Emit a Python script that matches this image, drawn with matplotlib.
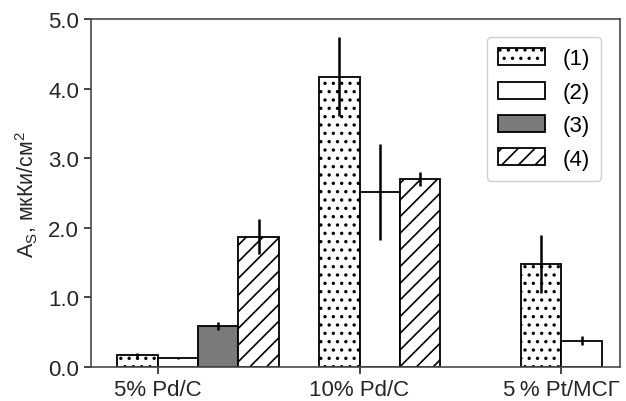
import numpy as np
import matplotlib
matplotlib.use("Agg")
import matplotlib.pyplot as plt

plt.rcParams['font.family'] = ['Liberation Sans', 'DejaVu Sans']
plt.rcParams['mathtext.fontset'] = 'custom'
plt.rcParams['mathtext.rm'] = 'Liberation Sans'
plt.rcParams['mathtext.it'] = 'Liberation Sans:italic'
plt.rcParams['hatch.linewidth'] = 1.2

# data
catalysts = ["5% Pd/C", "10% Pd/C", "5\u2009% Pt/МСГ"]
series_names = ["(1)", "(2)", "(3)", "(4)"]
vals1 = [0.17, 4.17, 1.48]
err1 = [0.03, 0.57, 0.42]
vals2 = [0.13, 2.52, 0.38]
err2 = [0.01, 0.69, 0.06]
vals3 = [0.59, np.nan, np.nan]
err3 = [0.06, np.nan, np.nan]
vals4 = [1.87, 2.70, np.nan]
err4 = [0.25, 0.10, np.nan]
# slot of each series inside a group (series 4 moves up where series 3 is missing)
slots1 = [0, 0, 0]
slots2 = [1, 1, 1]
slots3 = [2, 2, 2]
slots4 = [3, 2, 3]

fig = plt.figure(figsize=(6.26, 4.02), dpi=100)
ax = fig.add_axes([0.1454, 0.0846, 0.845, 0.8657])

x = np.arange(len(catalysts))
w = 0.2
styles = [dict(color="white", hatch=".."),
          dict(color="white", hatch=""),
          dict(color="#7a7a7a", hatch=""),
          dict(color="white", hatch="//")]
allv = [vals1, vals2, vals3, vals4]
alle = [err1, err2, err3, err4]
alls = [slots1, slots2, slots3, slots4]
for i in range(4):
    pos = x - 0.1 + np.array(alls[i]) * w
    ax.bar(pos, allv[i], w, yerr=alle[i], edgecolor="black",
           linewidth=1.3, label=series_names[i],
           error_kw=dict(ecolor="black", elinewidth=1.8, capsize=0),
           **styles[i])

ax.set_xlim(-0.33, 2.29)
ax.set_ylim(0, 5.0)
ax.set_yticks([0, 1, 2, 3, 4, 5])
ax.set_yticklabels(["0.0", "1.0", "2.0", "3.0", "4.0", "5.0"])
ax.set_xticks(x)
ax.set_xticklabels(catalysts)
ax.tick_params(labelsize=16, colors="#262626", length=5, width=1.2)
ax.tick_params(axis="x", pad=4)
for s in ax.spines.values():
    s.set_color("#4a4a4a")
    s.set_linewidth(1.2)
ax.set_ylabel(r"$\mathrm{A_S}$, мкКи/см$^2$", fontsize=15.5, color="#262626", labelpad=6)

ax.legend(loc="upper right", fontsize=16, handlelength=2.1, handleheight=0.8,
          labelspacing=0.55, borderpad=0.5, handletextpad=0.8,
          bbox_to_anchor=(0.985, 0.98),
          edgecolor="#d0d0d0", framealpha=1)

fig.savefig("out.png", dpi=100)
